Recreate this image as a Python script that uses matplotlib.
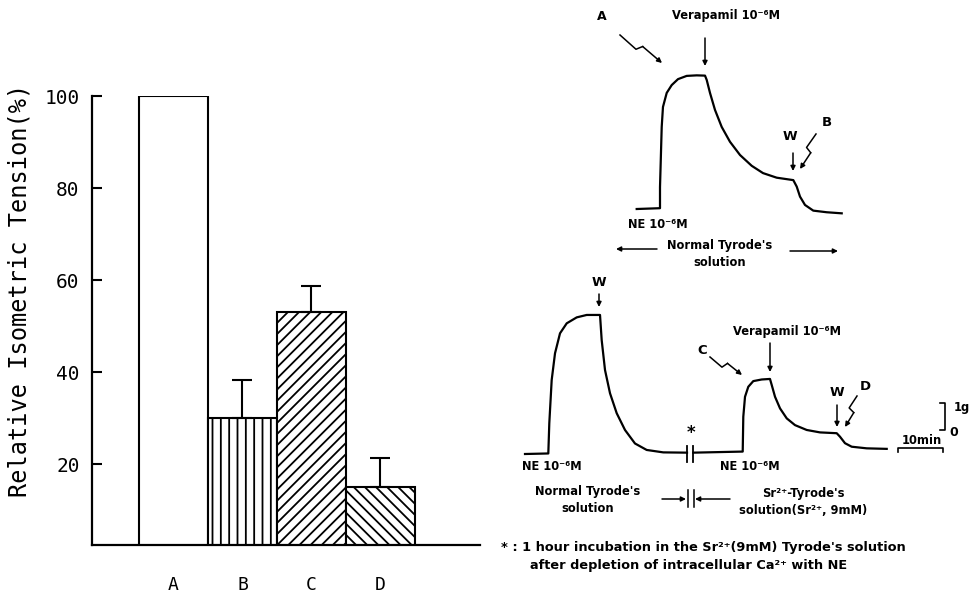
import numpy as np
import matplotlib
matplotlib.use("Agg")
import matplotlib.pyplot as plt

# bar chart data (relative isometric tension, %)
groups = ["A", "B", "C", "D"]
tension = [100, 30, 53, 15]
sem = [0, 8.3, 5.7, 6.3]
hatches = ["", "||", "///", "\\\\\\"]
y_ticks = [20, 40, 60, 80, 100]

# recorded traces, time in min, tension in g
top_t = [0, 5.18, 5.18, 5.56, 5.84, 6.67, 7.78, 9.18, 11.11, 13.33, 15.18, 15.56,
         16.29, 17.4, 18.89, 20.73, 22.96, 25.56, 28.07, 31.11, 34.8, 35.56, 36.29,
         37.4, 39.24, 42.22, 45.56]
top_g = [0, 0.03, 0.81, 3.04, 3.78, 4.30, 4.59, 4.81, 4.93, 4.95, 4.94, 4.78,
         4.30, 3.67, 3.04, 2.49, 2.0, 1.60, 1.33, 1.16, 1.07, 0.83, 0.46,
         0.15, -0.06, -0.12, -0.16]

bot1_t = [0, 5.18, 5.4, 5.93, 6.67, 7.78, 9.27, 11.49, 13.71, 16.67, 17.04, 17.78,
          18.89, 20.38, 22.22, 24.44, 27.04, 30.73, 36.0]
bot1_g = [0, 0.02, 1.14, 2.74, 3.73, 4.47, 4.84, 5.06, 5.15, 5.15, 4.22, 3.11,
          2.25, 1.51, 0.89, 0.39, 0.15, 0.06, 0.05]

bot2_t = [37.4, 48.38, 48.51, 48.89, 49.62, 50.73, 52.6, 54.44, 54.82, 55.56, 56.67,
          58.16, 60.0, 62.6, 65.56, 69.27, 70.0, 71.11, 72.6, 75.93, 80.38]
bot2_g = [0.05, 0.09, 1.38, 2.12, 2.49, 2.70, 2.76, 2.78, 2.56, 2.12, 1.69,
          1.32, 1.07, 0.89, 0.80, 0.77, 0.64, 0.40, 0.27, 0.21, 0.19]

break_t = [36.0, 37.4]
top_offset = (24.82, 9.074)

W, H = 971, 594
plt.rcParams["hatch.linewidth"] = 1.3

fig = plt.figure(figsize=(W / 100, H / 100), dpi=100)

# ---- left: bar chart ----
ax = fig.add_axes([92 / W, 1 - 545 / H, 388 / W, 449 / H])
x = np.arange(len(groups))
ax.bar(x, tension, width=1.0, color="white", edgecolor="black", linewidth=1.5,
       hatch=hatches, zorder=2)
ax.errorbar(x[1:], tension[1:], yerr=[np.zeros(3), sem[1:]], fmt="none",
            ecolor="black", elinewidth=1.5, capsize=7, capthick=1.5, zorder=3)
ax.set_xlim(-1.181, 4.442)
ax.set_ylim(2.4, 100)
for s in ["top", "right"]:
    ax.spines[s].set_visible(False)
for s in ["left", "bottom"]:
    ax.spines[s].set_linewidth(1.6)
ax.set_yticks(y_ticks)
ax.set_yticklabels([str(v) for v in y_ticks], fontfamily="DejaVu Sans Mono", fontsize=14)
ax.tick_params(axis="y", direction="in", length=7, width=1.5, pad=9)
ax.set_xticks(x)
ax.set_xticklabels(groups, fontfamily="DejaVu Sans Mono", fontsize=13)
ax.tick_params(axis="x", length=0, pad=22)
fig.text(20 / W, 1 - 290 / H, "Relative Isometric Tension(%)", rotation=90,
         ha="center", va="center", fontfamily="DejaVu Sans Mono", fontsize=17)

# ---- right: tension traces ----
tr = fig.add_axes([480 / W, 0, 491 / W, 1])
tr.set_xlim(-10, 99.11)
tr.set_ylim(-5.185, 16.815)
tr.axis("off")
lw = 1.6
tr.plot(np.array(top_t) + top_offset[0], np.array(top_g) + top_offset[1], color="black", lw=lw)
tr.plot(bot1_t, bot1_g, color="black", lw=lw)
tr.plot(bot2_t, bot2_g, color="black", lw=lw)
for bt in break_t:
    tr.plot([bt, bt], [0.28, -0.28], color="black", lw=1.3)

# scale bars
tr.plot([82.96, 82.96, 92.96, 92.96], [0.09, 0.21, 0.21, 0.09], color="black", lw=1.2)
tr.plot([92.2, 93.3, 93.3, 92.2], [1.88, 1.88, 0.89, 0.89], color="black", lw=1.2)


def fp(px, py):
    return (px / W, 1 - py / H)


txt = dict(fontfamily="DejaVu Sans", fontweight="bold", fontsize=8.3, color="black")
arr = dict(arrowstyle="-|>", lw=1.1, color="black", mutation_scale=7, shrinkA=0, shrinkB=0)


def label(s, px, py, ha="center", size=None):
    kw = dict(txt)
    if size:
        kw["fontsize"] = size
    fig.text(*fp(px, py), s, ha=ha, va="center", linespacing=1.35, **kw)


def arrow(p0, p1):
    tr.annotate("", xy=fp(*p1), xytext=fp(*p0), xycoords="figure fraction",
                textcoords="figure fraction", arrowprops=arr)


def bolt(p0, p1):
    p0 = np.array(p0, float)
    p1 = np.array(p1, float)
    d = p1 - p0
    n = np.array([-d[1], d[0]]) / np.hypot(*d)
    m1 = p0 + 0.42 * d + 3 * n
    m2 = p0 + 0.50 * d - 3 * n
    pts = [fp(*p0), fp(*m1), fp(*m2)]
    fig.add_artist(plt.Line2D([p[0] for p in pts], [p[1] for p in pts],
                              color="black", lw=1.1, transform=fig.transFigure))
    arrow(m2, p1)


# top trace labels
label("A", 602, 17, size=9)
bolt((620, 35), (662, 63))
label("Verapamil 10⁻⁶M", 726, 15)
arrow((705, 38), (705, 66))
label("W", 790, 137, size=9.5)
arrow((793, 153), (793, 171))
label("B", 827, 122, size=9.5)
bolt((816, 134), (800, 169))
label("NE 10⁻⁶M", 628, 224, ha="left")
label("Normal Tyrode's\nsolution", 720, 254)
arrow((657, 249), (616, 249))
arrow((790, 251), (838, 251))

# bottom trace labels
label("W", 599, 283, size=9.5)
arrow((599, 294), (599, 307))
label("NE 10⁻⁶M", 522, 467, ha="left")
label("NE 10⁻⁶M", 720, 467, ha="left")
label("*", 691, 433, size=12)
label("C", 702, 350, size=9.5)
bolt((710, 357), (742, 375))
label("Verapamil 10⁻⁶M", 787, 332)
arrow((770, 343), (770, 372))
label("W", 837, 393, size=9.5)
arrow((837, 405), (837, 427))
label("D", 865, 387, size=9.5)
bolt((857, 396), (845, 427))
label("1g", 962, 408)
label("0", 954, 432, size=9)
label("10min", 922, 441)
label("Normal Tyrode's\nsolution", 588, 500)
label("Sr²⁺-Tyrode's\nsolution(Sr²⁺, 9mM)", 803, 502)
arrow((662, 499), (686, 499))
arrow((730, 499), (695, 499))
for bx in [687.5, 693.5]:
    fig.add_artist(plt.Line2D([bx / W, bx / W], [1 - 490 / H, 1 - 507 / H],
                              color="black", lw=1.1, transform=fig.transFigure))
label("* : 1 hour incubation in the Sr²⁺(9mM) Tyrode's solution", 501, 548, ha="left", size=9.3)
label("after depletion of intracellular Ca²⁺ with NE", 530, 566, ha="left", size=9.3)

fig.savefig("out.png", dpi=100)
